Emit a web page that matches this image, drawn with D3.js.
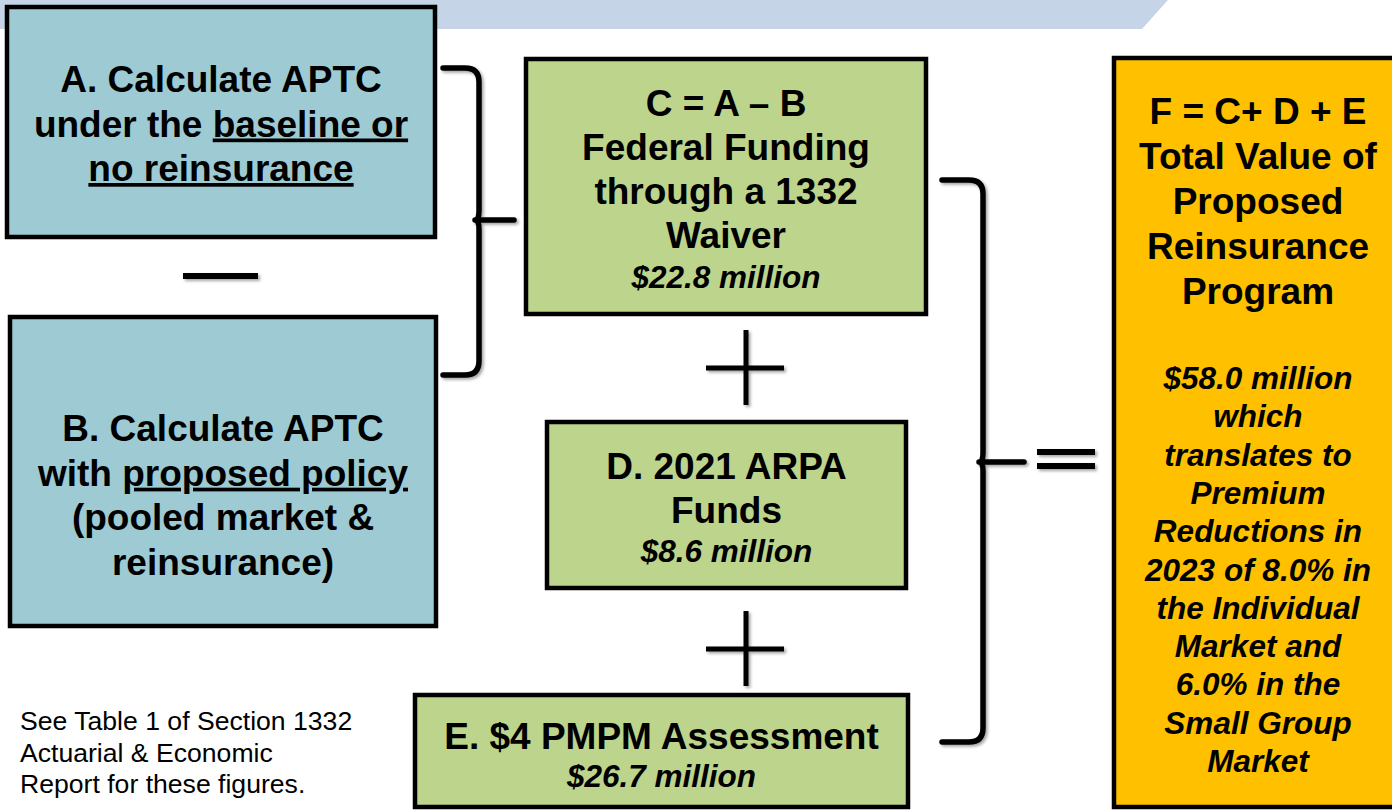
<!DOCTYPE html>
<html>
<head>
<meta charset="utf-8">
<script src="https://cdn.jsdelivr.net/npm/d3@7"></script>
<style>
  html, body { margin: 0; padding: 0; background: #fff; overflow: hidden; }
  svg { display: block; }
  text { font-family: "Liberation Sans", Arial, sans-serif; fill: #000; }
</style>
</head>
<body>
<div id="chart"></div>
<script>
// ---- data ----
var boxIds = ["A", "B", "C", "D", "E", "F"];
var boxTitles = [
  [["A. Calculate APTC"], ["under the ", {u: "baseline or"}], [{u: "no reinsurance"}]],
  [["B. Calculate APTC"], ["with ", {u: "proposed policy"}], ["(pooled market &"], ["reinsurance)"]],
  [["C = A \u2013 B"], ["Federal Funding"], ["through a 1332"], ["Waiver"]],
  [["D. 2021 ARPA"], ["Funds"]],
  [["E. $4 PMPM Assessment"]],
  [["F = C+ D + E"], ["Total Value of"], ["Proposed"], ["Reinsurance"], ["Program"]]
];
var amounts = [null, null, 22.8, 8.6, 26.7, 58.0];      // $ million
var reductionYear = 2023;
var markets = ["Individual", "Small Group"];
var reductions = [8.0, 6.0];                          // % premium reduction
var footnote = ["See Table 1 of Section 1332", "Actuarial & Economic", "Report for these figures."];

// ---- layout ----
var W = 1392, H = 810;
var boxX = [7, 10, 526, 547, 415, 1114];
var boxY = [7, 317, 59, 422, 695, 58];
var boxW = [428, 426, 400, 359, 493, 300];
var boxH = [230, 309, 255, 166, 112, 749];
var boxTextX = [221, 223, 726, 726.5, 661.5, 1258];
var boxFill = ["#9dcad3", "#9dcad3", "#bcd48c", "#bcd48c", "#bcd48c", "#ffc000"];
var titleBase = [92, 441, 116, 479, 749, 124];
var titleStep = [44.5, 44.7, 44, 44, 44, 45];
var amountBase = [null, null, 288, 562, 787, 389];

var svg = d3.select("#chart").append("svg")
  .attr("width", W).attr("height", H);

var defs = svg.append("defs");
var shadow = defs.append("filter").attr("id", "shadow")
  .attr("x", "-20%").attr("y", "-20%").attr("width", "140%").attr("height", "140%");
shadow.append("feDropShadow")
  .attr("dx", 2).attr("dy", 2).attr("stdDeviation", 1.6)
  .attr("flood-color", "#000").attr("flood-opacity", 0.35);

// top banner
svg.append("path")
  .attr("d", "M0,0 L1168,0 L1142,29 L0,29 Z")
  .attr("fill", "#c6d4e7");

// boxes
var boxes = svg.selectAll("g.box").data(boxIds).enter()
  .append("g").attr("class", "box");

boxes.append("rect")
  .attr("x", function(d, i) { return boxX[i]; })
  .attr("y", function(d, i) { return boxY[i]; })
  .attr("width", function(d, i) { return boxW[i]; })
  .attr("height", function(d, i) { return boxH[i]; })
  .attr("fill", function(d, i) { return boxFill[i]; })
  .attr("stroke", "#000")
  .attr("stroke-width", 4.5);

var money = d3.format("$.1f");

boxes.each(function(id, i) {
  var g = d3.select(this);
  var lineY = d3.scaleLinear().domain([0, 1]).range([titleBase[i], titleBase[i] + titleStep[i]]);
  boxTitles[i].forEach(function(parts, j) {
    var t = g.append("text")
      .attr("x", boxTextX[i])
      .attr("y", lineY(j))
      .attr("text-anchor", "middle")
      .style("font-size", "37px")
      .style("font-weight", "bold");
    parts.forEach(function(p) {
      if (typeof p === "string") {
        t.append("tspan").text(p);
      } else {
        t.append("tspan").text(p.u).style("text-decoration", "underline");
      }
    });
  });

  if (amounts[i] == null) return;
  var lines = [money(amounts[i]) + " million"];
  if (id === "F") {
    lines = lines.concat([
      "which", "translates to", "Premium", "Reductions in",
      reductionYear + " of " + reductions[0].toFixed(1) + "% in",
      "the " + markets[0],
      "Market and",
      reductions[1].toFixed(1) + "% in the",
      markets[1],
      "Market"
    ]);
  }
  var amtY = d3.scaleLinear().domain([0, 1]).range([amountBase[i], amountBase[i] + 38.3]);
  lines.forEach(function(s, j) {
    g.append("text")
      .attr("x", boxTextX[i])
      .attr("y", amtY(j))
      .attr("text-anchor", "middle")
      .style("font-size", "31.5px")
      .style("font-weight", "bold")
      .style("font-style", "italic")
      .text(s);
  });
});

// operators and braces
var ops = svg.append("g")
  .attr("stroke", "#000")
  .attr("fill", "none")
  .attr("filter", "url(#shadow)");

// minus between A and B
ops.append("line").attr("x1", 183).attr("x2", 258).attr("y1", 276).attr("y2", 276)
  .attr("stroke-width", 6);

// plus signs
[368, 649].forEach(function(cy) {
  ops.append("line").attr("x1", 706).attr("x2", 784).attr("y1", cy).attr("y2", cy).attr("stroke-width", 5);
  ops.append("line").attr("x1", 746).attr("x2", 746).attr("y1", cy - 38).attr("y2", cy + 37).attr("stroke-width", 5);
});

// equals
[452, 466].forEach(function(cy) {
  ops.append("line").attr("x1", 1037).attr("x2", 1095).attr("y1", cy).attr("y2", cy).attr("stroke-width", 6);
});

function brace(x0, xv, xt, y0, ym, y1) {
  var r = 14;
  var p = d3.path();
  p.moveTo(x0, y0);
  p.lineTo(xv - r, y0);
  p.quadraticCurveTo(xv, y0, xv, y0 + r);
  p.lineTo(xv, ym - 9);
  p.quadraticCurveTo(xv, ym, xv - 4, ym);
  p.quadraticCurveTo(xv, ym, xv, ym + 9);
  p.lineTo(xv, y1 - r);
  p.quadraticCurveTo(xv, y1, xv - r, y1);
  p.lineTo(x0, y1);
  p.moveTo(xv, ym);
  p.lineTo(xt, ym);
  return p.toString();
}

ops.append("path").attr("d", brace(443, 479, 514, 68, 220, 375))
  .attr("stroke-width", 5.5).attr("stroke-linecap", "round").attr("stroke-linejoin", "round");
ops.append("path").attr("d", brace(942, 983, 1024, 180, 462, 742))
  .attr("stroke-width", 5.5).attr("stroke-linecap", "round").attr("stroke-linejoin", "round");

// footnote
svg.append("g").selectAll("text").data(footnote).enter()
  .append("text")
  .attr("x", 20)
  .attr("y", function(d, i) { return 730 + i * 31.6; })
  .style("font-size", "26.6px")
  .text(function(d) { return d; });
</script>
</body>
</html>
